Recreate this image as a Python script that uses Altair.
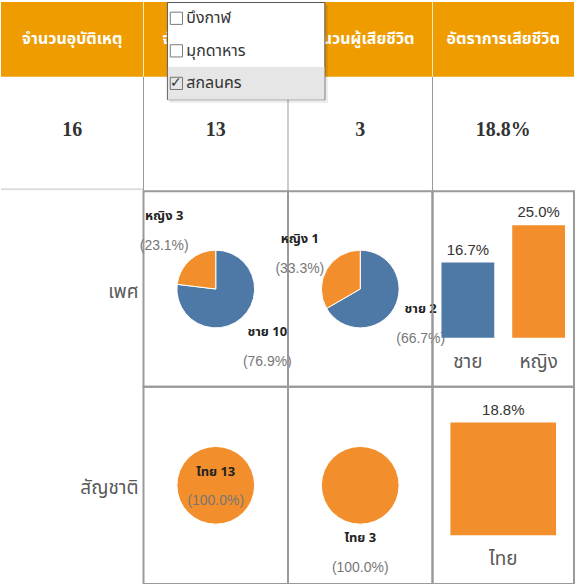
import altair as alt
import pandas as pd

# ---------------- data ----------------
headers = ["จำนวนอุบัติเหตุ", "จำนวนผู้บาดเจ็บ", "จำนวนผู้เสียชีวิต", "อัตราการเสียชีวิต"]
summary = ["16", "13", "3", "18.8%"]
provinces = ["บึงกาฬ", "มุกดาหาร", "สกลนคร"]
province_checked = [False, False, True]
row_labels = ["เพศ", "สัญชาติ"]
genders = ["ชาย", "หญิง"]
injured_by_gender = [10, 3]
deaths_by_gender = [2, 1]
rate_by_gender = [16.7, 25.0]
nationalities = ["ไทย"]
injured_by_nat = [13]
deaths_by_nat = [3]
rate_by_nat = [18.8]

# ---------------- style ----------------
ORANGE_HEAD = "#EE9C00"
BLUE = "#4E79A7"
ORANGE = "#F28E2B"
GRID = "#9A9A9A"
THAI = "Noto Sans Thai, Tahoma, sans-serif"
NUM = "Liberation Serif"
NARROW = "Liberation Sans Narrow, Liberation Sans, sans-serif"

W = [143, 145, 145, 142]
H = [75, 115, 196, 198]
CELL_VIEW = alt.ViewBackground(stroke=GRID, strokeWidth=2)


def one():
    return alt.Chart(pd.DataFrame({"a": [0]}))


def header(i):
    base = alt.Chart(pd.DataFrame({"h": [headers[i]]}))
    layers = []
    if i > 0:
        layers.append(one().mark_rule(color="white", opacity=0.7, strokeWidth=1).encode(
            x=alt.value(0), y=alt.value(0), y2=alt.value(H[0])))
    layers.append(base.mark_text(color="white", fontWeight="bold", fontSize=16, font=THAI).encode(text="h:N"))
    return alt.layer(*layers).properties(
        width=W[i], height=H[0], view=alt.ViewBackground(fill=ORANGE_HEAD, strokeWidth=0))


def dropdown_layers():
    dd = pd.DataFrame({"p": provinces, "checked": province_checked})
    base = alt.Chart(dd)
    yenc = alt.Y("p:N", scale=alt.Scale(domain=provinces, range=[-75, 23], paddingInner=0, paddingOuter=0), axis=None)
    shadow = one().mark_rect(fill="#000000", opacity=0.08).encode(
        x=alt.value(-119), x2=alt.value(40), y=alt.value(-72), y2=alt.value(26))
    box = one().mark_rect(fill="white", stroke="#555555", strokeWidth=1).encode(
        x=alt.value(-121), x2=alt.value(37), y=alt.value(-74.5), y2=alt.value(23))
    hl = base.transform_filter("datum.checked").mark_rect(fill="#E6E6E6").encode(
        y=yenc, x=alt.value(-120.5), x2=alt.value(36.5))
    cb = base.mark_point(shape="square", filled=False, stroke="#444444", size=150, strokeWidth=1).encode(
        y=yenc, x=alt.value(-112))
    ck = base.transform_filter("datum.checked").mark_text(text="✓", fontSize=14, color="#333333").encode(
        y=yenc, x=alt.value(-112))
    lab = base.mark_text(align="left", fontSize=16, font=THAI, color="#333333").encode(
        y=yenc, x=alt.value(-102), text="p:N")
    return [shadow, box, hl, cb, ck, lab]


def summary_cell(i):
    base = alt.Chart(pd.DataFrame({"v": [summary[i]]}))
    layers = []
    if i == 0:
        layers.append(one().mark_rule(color="#DDDDDD", strokeWidth=2).encode(
            x=alt.value(0), x2=alt.value(W[0]), y=alt.value(H[1] - 2)))
    else:
        layers.append(one().mark_rule(color=GRID, strokeWidth=1).encode(
            x=alt.value(0), y=alt.value(0), y2=alt.value(H[1])))
    layers.append(base.mark_text(fontSize=20, fontWeight="bold", font=NUM, color="#333333", dy=-4).encode(text="v:N"))
    if i == 2:
        layers += dropdown_layers()
    return alt.layer(*layers).properties(width=W[i], height=H[1])


def label_cell(r, h):
    return alt.Chart(pd.DataFrame({"t": [row_labels[r]]})).mark_text(
        align="right", fontSize=19, font=THAI, color="#595959", dy=3).encode(
        text="t:N", x=alt.value(W[0] - 5)).properties(width=W[0], height=h)


def pie_cell(cats, vals, colors, w, h, r_label, dy_name=-15, dy_pct=15):
    df = pd.DataFrame({"c": cats, "v": vals, "k": list(range(len(cats)))})
    base = alt.Chart(df).transform_joinaggregate(total="sum(v)").transform_calculate(
        name="datum.c + ' ' + datum.v",
        pct="'(' + format(datum.v / datum.total, '.1%') + ')'")
    theta = alt.Theta("v:Q", stack=True)
    color = alt.Color("c:N", scale=alt.Scale(domain=cats, range=colors), legend=None)
    arc = base.mark_arc(radius=39, stroke="white", strokeWidth=1).encode(
        theta=theta, color=color, order=alt.Order("k:Q"))
    name = base.mark_text(radius=r_label, dy=dy_name, fontSize=13, fontWeight="bold", font=THAI,
                          color="#222222").encode(theta=theta, text="name:N", order=alt.Order("k:Q"))
    pct = base.mark_text(radius=r_label, dy=dy_pct, fontSize=14, font=NARROW,
                         color="#777777").encode(theta=theta, text="pct:N", order=alt.Order("k:Q"))
    return alt.layer(arc, name, pct).properties(width=w, height=h, view=CELL_VIEW)


def bar_cell(cats, rates, colors, w, h, base_y, ymax, pi, po):
    df = pd.DataFrame({"c": cats, "r": rates})
    base = alt.Chart(df).transform_calculate(lbl="format(datum.r, '.1f') + '%'")
    x = alt.X("c:N", scale=alt.Scale(domain=cats, paddingInner=pi, paddingOuter=po), axis=None)
    yscale = alt.Scale(domain=[0, ymax], range=[base_y, 0], nice=False, zero=True)
    y = alt.Y("r:Q", scale=yscale, axis=None)
    color = alt.Color("c:N", scale=alt.Scale(domain=cats, range=colors), legend=None)
    bars = base.mark_bar().encode(x=x, y=y, color=color)
    top = base.mark_text(baseline="bottom", dy=-5, fontSize=15, font=NARROW, color="#333333").encode(
        x=x, y=y, text="lbl:N")
    cat = base.mark_text(baseline="middle", dy=24, fontSize=19, font=THAI, color="#595959").encode(
        x=x, y=alt.datum(0), text="c:N")
    return alt.layer(bars, top, cat).properties(width=w, height=h, view=CELL_VIEW)


cells = [header(i) for i in range(4)]
cells += [summary_cell(i) for i in range(4)]
cells += [
    label_cell(0, H[2]),
    pie_cell(genders, injured_by_gender, [BLUE, ORANGE], W[1], H[2], 78),
    pie_cell(genders, deaths_by_gender, [BLUE, ORANGE], W[2], H[2], 70),
    bar_cell(genders, rate_by_gender, [BLUE, ORANGE], W[3], H[2], 147, 25.0 * 147 / 113, 0.254, 0.127),
]
cells += [
    label_cell(1, H[3]),
    pie_cell(nationalities, injured_by_nat, [ORANGE], W[1], H[3], 0, -13, 16),
    pie_cell(nationalities, deaths_by_nat, [ORANGE], W[2], H[3], 68),
    bar_cell(nationalities, rate_by_nat, [ORANGE], W[3], H[3], 149, 18.8 * 149 / 113, 0.0, 0.17),
]

chart = alt.concat(*cells, columns=4, spacing=0, bounds="flush", align="each").resolve_scale(
    x="independent", y="independent", color="independent", theta="independent"
).properties(padding=0, background="white").configure_view(strokeWidth=0)

chart.save("out.html", embed_options={"renderer": "svg", "actions": False})
